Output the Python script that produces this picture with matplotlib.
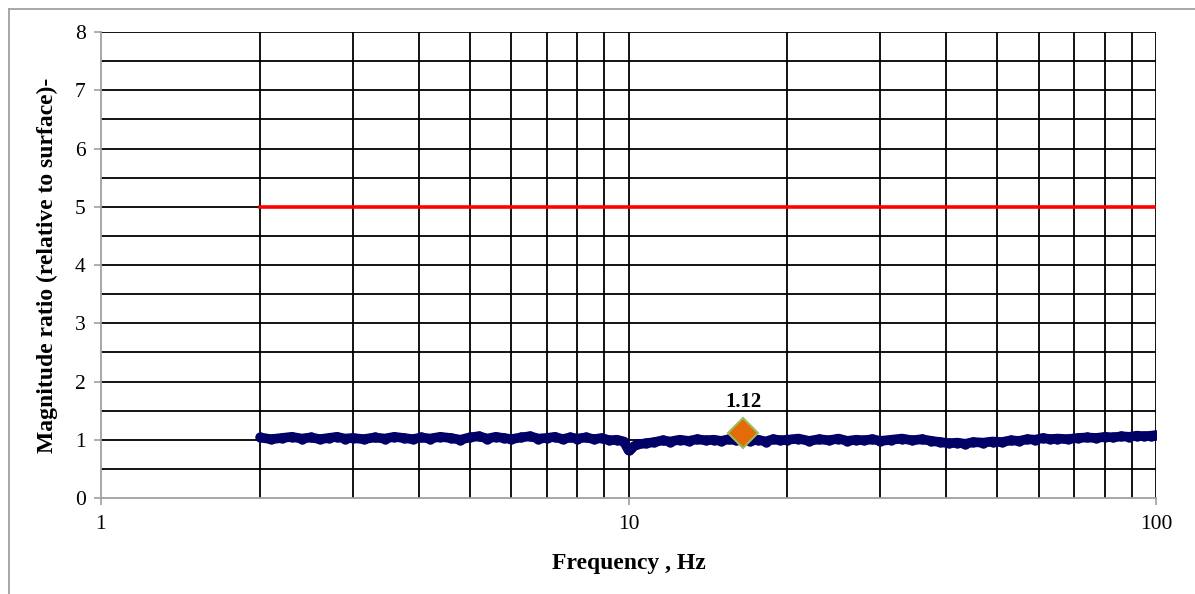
import matplotlib
matplotlib.use("Agg")
import matplotlib.pyplot as plt
from matplotlib.lines import Line2D
from matplotlib.ticker import FixedLocator, NullFormatter

plt.rcParams['font.family'] = ['Liberation Serif', 'DejaVu Serif']

# Measured magnitude ratio (noisy trace)
freq = [2.0, 2.1, 2.2, 2.3, 2.4, 2.5, 2.6, 2.7, 2.8, 2.9, 3.0,
        3.15, 3.3, 3.45, 3.6, 3.75, 3.9, 4.05, 4.2,
        4.4, 4.6, 4.8, 5.0, 5.2, 5.4, 5.6, 5.8, 6.0,
        6.25, 6.5, 6.75, 7.0, 7.25, 7.5, 7.75, 8.0,
        8.3, 8.6, 8.9, 9.2, 9.5, 9.8,
        10.0, 10.1, 10.4, 10.8, 11.2, 11.6, 12.0,
        12.5, 13.0, 13.5, 14.0, 14.5, 15.0, 15.5, 16.0, 16.5,
        17.0, 17.6, 18.2, 18.8, 19.4, 20.0,
        21, 22, 23, 24, 25, 26, 27, 28, 29, 30,
        31.5, 33, 34.5, 36, 37.5, 39, 40.5, 42, 43.5, 45,
        47, 49, 51, 53, 55, 57, 59, 61, 63, 65,
        68, 71, 74, 77, 80, 83, 86, 89, 92, 95, 98, 100]
ratio = [1.04, 1.01, 1.03, 1.05, 1.02, 1.04, 1.01, 1.03, 1.05, 1.02, 1.03,
         1.01, 1.04, 1.02, 1.05, 1.03, 1.01, 1.04, 1.02,
         1.05, 1.03, 1.00, 1.04, 1.06, 1.02, 1.05, 1.03, 1.01,
         1.04, 1.06, 1.02, 1.03, 1.05, 1.01, 1.04, 1.02,
         1.04, 1.01, 1.03, 0.99, 1.00, 0.97,
         0.82, 0.86, 0.92, 0.94, 0.96, 0.99, 0.97,
         1.00, 0.98, 1.01, 0.99, 1.00, 0.98, 1.01, 0.99, 1.00,
         0.98, 1.00, 0.97, 1.01, 0.99, 1.00,
         1.02, 0.98, 1.01, 0.99, 1.02, 0.98, 1.00, 0.99, 1.01, 0.98,
         1.00, 1.02, 0.99, 1.01, 0.98, 0.96, 0.94, 0.95, 0.93, 0.96,
         0.95, 0.97, 0.96, 0.99, 0.98, 1.01, 1.00, 1.03, 1.01, 1.02,
         1.01, 1.03, 1.04, 1.03, 1.05, 1.04, 1.06, 1.05, 1.07, 1.06, 1.07, 1.08]

# Limit line
limit_freq = [2, 100]
limit_value = [5, 5]

# Peak marker
peak_freq = [16.5]
peak_value = [1.12]
peak_label = "1.12"

x_ticks = [1, 10, 100]
x_ticklabels = ["1", "10", "100"]
y_ticks = [0, 1, 2, 3, 4, 5, 6, 7, 8]
x_grid = [2, 3, 4, 5, 6, 7, 8, 9, 10, 20, 30, 40, 50, 60, 70, 80, 90, 100]
y_grid = [0.5, 1, 1.5, 2, 2.5, 3, 3.5, 4, 4.5, 5, 5.5, 6, 6.5, 7, 7.5, 8]

fig = plt.figure(figsize=(11.95, 5.94), dpi=100)
ax = fig.add_axes([0.0845, 0.1616, 0.8829, 0.7845])

ax.set_xscale('log')
ax.set_xlim(1, 100)
ax.set_ylim(0, 8)

for gx in x_grid:
    ax.axvline(gx, color='black', lw=1.3, zorder=1)
for gy in y_grid:
    ax.axhline(gy, color='black', lw=1.3, zorder=1)

ax.plot(limit_freq, limit_value, color='#FF0000', lw=2.6, zorder=3)
ax.plot(freq, ratio, color='#000066', lw=7.0, solid_joinstyle='round',
        solid_capstyle='butt', marker='o', markersize=7.5,
        markerfacecolor='#000066', markeredgewidth=0, zorder=4)
ax.plot(peak_freq, peak_value, marker='D', markersize=15,
        markerfacecolor='#E36C09', markeredgecolor='#9BBB59',
        markeredgewidth=1.5, linestyle='none', zorder=5)
ax.annotate(peak_label, (peak_freq[0], peak_value[0]), xytext=(0, 15),
            textcoords='offset points', ha='center', va='bottom',
            fontsize=15, fontweight='bold')

ax.xaxis.set_major_locator(FixedLocator(x_ticks))
ax.set_xticklabels(x_ticklabels)
ax.xaxis.set_minor_locator(FixedLocator([]))
ax.xaxis.set_minor_formatter(NullFormatter())
ax.set_yticks(y_ticks)

for s in ['top', 'right']:
    ax.spines[s].set_visible(False)
for s in ['left', 'bottom']:
    ax.spines[s].set_color('#A0A0A0')
    ax.spines[s].set_linewidth(1.3)
    ax.spines[s].set_zorder(6)

ax.tick_params(axis='both', which='major', length=5, width=1.2,
               color='#A0A0A0', labelsize=15.5)
ax.tick_params(axis='x', pad=7)
ax.tick_params(axis='y', pad=6)

ax.set_xlabel('Frequency , Hz', fontsize=17, fontweight='bold', labelpad=14)
ax.set_ylabel('Magnitude ratio (relative to surface)-', fontsize=17,
              fontweight='bold', labelpad=12)

# outer chart border
fig.add_artist(Line2D([9/1195, 9/1195], [0, 1 - 9/594], transform=fig.transFigure,
                      color='#A0A0A0', lw=1.3))
fig.add_artist(Line2D([9/1195, 1], [1 - 9/594, 1 - 9/594], transform=fig.transFigure,
                      color='#A0A0A0', lw=1.3))

fig.savefig('out.png', dpi=100)
